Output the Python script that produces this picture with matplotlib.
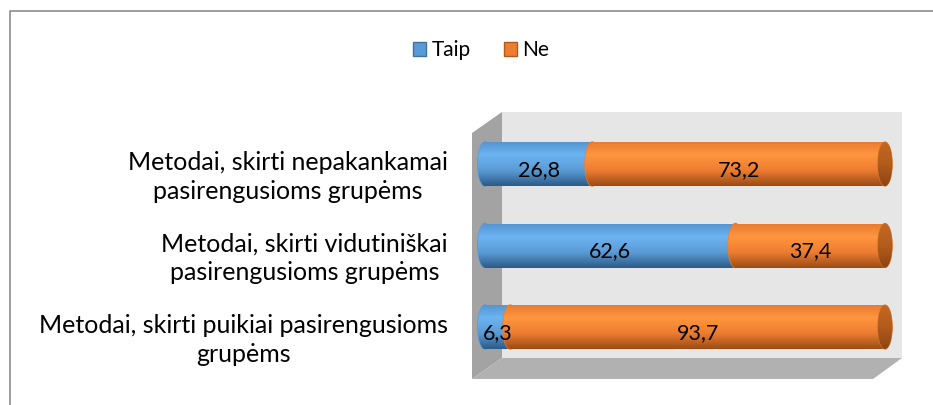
import matplotlib
matplotlib.use("Agg")
import matplotlib.pyplot as plt
import numpy as np
from matplotlib.patches import Polygon, Ellipse, Patch
from matplotlib.colors import LinearSegmentedColormap

plt.rcParams['font.family'] = ['Lato', 'DejaVu Sans']

# data (bottom to top)
categories = ["Metodai, skirti puikiai pasirengusioms\ngrupėms",
              "Metodai, skirti vidutiniškai\npasirengusioms grupėms",
              "Metodai, skirti nepakankamai\npasirengusioms grupėms"]
taip = [6.3, 62.6, 26.8]
ne = [93.7, 37.4, 73.2]
series_names = ["Taip", "Ne"]

blue = "#5b9bd5"
orange = "#ed7d31"
blue_grad = LinearSegmentedColormap.from_list(
    "b", [(0, "#5494d0"), (0.3, "#6cb4f2"), (0.65, "#5b9bd5"), (1, "#2c5c88")])
orange_grad = LinearSegmentedColormap.from_list(
    "o", [(0, "#e87a30"), (0.3, "#ff963f"), (0.65, "#ed7d31"), (1, "#9c4c16")])
cap_grad = LinearSegmentedColormap.from_list(
    "c", [(0, "#c46823"), (0.5, "#b35c1d"), (1, "#8e4512")])

fs = 18

fig = plt.figure(figsize=(9.33, 4.05), dpi=100)

# background: frame and 3d walls (pixel coords)
bg = fig.add_axes([0, 0, 1, 1])
bg.set_xlim(0, 933)
bg.set_ylim(405, 0)
bg.axis("off")
bg.plot([10, 10, 933], [405, 11, 11], color="#8c8c8c", lw=1.2)
bg.add_patch(Polygon([(502, 112), (902, 112), (902, 358), (502, 358)], color="#e6e6e6", lw=0))
bg.add_patch(Polygon([(472, 133), (502, 112), (502, 358), (472, 379)], color="#a3a3a3", lw=0))
bg.add_patch(Polygon([(472, 379), (502, 358), (902, 358), (873, 379)], color="#b1b1b1", lw=0))

# bar axes: 0 -> x=485px, 100 -> x=885px, with a margin for the caps
x0px = 485
pad = 3
ax = fig.add_axes([(x0px - pad * 4) / 933, 47 / 405, (400 + 2 * pad * 4) / 933, 246 / 405])
ax.patch.set_alpha(0)
ypos = np.arange(len(categories))
h = 0.54
cap_w = 3.6

ramp = np.linspace(1, 0, 64).reshape(-1, 1)


def shaded(patch, cmap, x0, x1, yc):
    im = ax.imshow(ramp, cmap=cmap, aspect="auto", vmin=0, vmax=1,
                   extent=[x0, x1, yc - h / 2, yc + h / 2], origin="lower",
                   zorder=patch.get_zorder() + 0.1)
    im.set_clip_path(patch)


bars_t = ax.barh(ypos, taip, height=h, color=blue, zorder=2)
bars_n = ax.barh(ypos, ne, left=taip, height=h, color=orange, zorder=4)

for i in range(len(categories)):
    y = ypos[i]
    # left cap of blue
    e = Ellipse((0, y), cap_w, h, color=blue, zorder=1.5)
    ax.add_patch(e)
    shaded(e, blue_grad, -cap_w / 2, cap_w / 2, y)
    shaded(bars_t[i], blue_grad, 0, taip[i], y)
    # left bulge of orange over blue
    e2 = Ellipse((taip[i], y), cap_w, h, color=orange, zorder=3.5)
    ax.add_patch(e2)
    shaded(e2, orange_grad, taip[i] - cap_w / 2, taip[i] + cap_w / 2, y)
    shaded(bars_n[i], orange_grad, taip[i], taip[i] + ne[i], y)
    # right end cap
    end = taip[i] + ne[i]
    e3 = Ellipse((end, y), cap_w, h, facecolor="#b35c1d",
                 edgecolor="#d8782c", lw=0.8, zorder=6)
    ax.add_patch(e3)
    shaded(e3, cap_grad, end - cap_w / 2, end + cap_w / 2, y)

    for left, w in [(0, taip[i]), (taip[i], ne[i])]:
        ax.text(left + w / 2, y - 0.07, f"{w:.1f}".replace(".", ","),
                ha="center", va="center", fontsize=15.5, color="black", zorder=8)

    ax.annotate(categories[i], xy=(0, y), xycoords="data",
                xytext=(-37, -13), textcoords="offset pixels",
                ha="right", va="center", multialignment="center",
                fontsize=fs, linespacing=1.3, annotation_clip=False)

ax.set_xlim(-pad, 100 + pad)
ax.set_ylim(-0.38, 2.638)
ax.axis("off")

handles = [Patch(facecolor=blue, edgecolor="#41719c"),
           Patch(facecolor=orange, edgecolor="#ae5a21")]
fig.legend(handles, series_names, loc="center", bbox_to_anchor=(481 / 933, 1 - 50 / 405),
           ncol=2, frameon=False, fontsize=15, handlelength=0.65, handleheight=0.65,
           handletextpad=0.25, columnspacing=1.6)

fig.savefig("out.png", dpi=100)
